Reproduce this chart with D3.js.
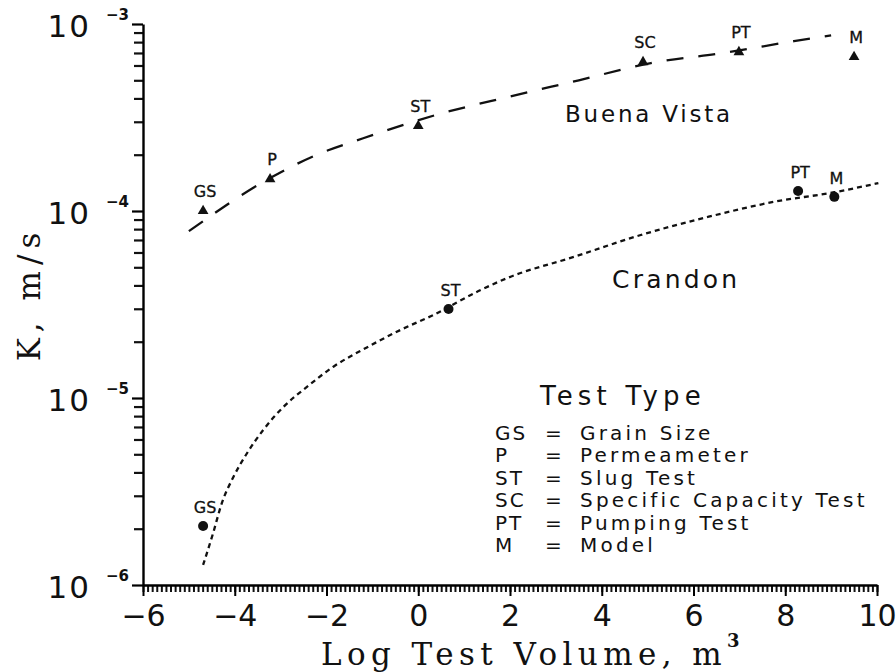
<!DOCTYPE html>
<html>

<head>
    <meta charset="UTF-8">
    <style>
        body {
            margin: 0;
            background-color: #fff;
        }

        .tick-label,
        .mark-label,
        .note {
            font-family: "DejaVu Sans", sans-serif;
            fill: #111;
        }

        .axis-title {
            font-family: "DejaVu Serif", serif;
            fill: #111;
        }
    </style>
    <title>K vs Log Test Volume</title>
</head>

<body>
    <svg id="chart" width="896" height="672"></svg>

    <script src="https://d3js.org/d3.v7.min.js"></script>
    <script>
        // measured points, Buena Vista (triangles)
        const bvX = [-4.69, -3.23, 0.0, 4.9, 6.99, 9.5];
        const bvK = [1.0e-4, 1.48e-4, 2.85e-4, 6.26e-4, 7.08e-4, 6.67e-4];
        const bvLabels = ["GS", "P", "ST", "SC", "PT", "M"];

        // measured points, Crandon (circles)
        const crX = [-4.69, 0.66, 8.28, 9.07];
        const crK = [2.07e-6, 2.99e-5, 1.28e-4, 1.19e-4];
        const crLabels = ["GS", "ST", "PT", "M"];

        // fitted curves
        const bvCurveX = [-5.0, -3.23, -2.27, -1.2, 0.38, 1.95, 3.5, 5.07, 6.66, 8.19, 9.0];
        const bvCurveK = [7.8e-5, 1.5e-4, 1.97e-4, 2.45e-4, 3.26e-4, 4.07e-4, 5.0e-4, 6.18e-4, 7.0e-4, 8.1e-4, 8.7e-4];

        const crCurveX = [-4.69, -4.47, -4.28, -4.03, -3.73, -3.38, -2.94, -2.42, -1.85, -1.11, -0.39, 0.33, 1.36, 1.95, 3.39, 4.85, 6.31, 7.76, 9.07, 10.03];
        const crCurveK = [1.28e-6, 1.9e-6, 2.75e-6, 3.78e-6, 5.08e-6, 6.74e-6, 8.95e-6, 1.15e-5, 1.47e-5, 1.87e-5, 2.31e-5, 2.78e-5, 3.78e-5, 4.39e-5, 5.68e-5, 7.44e-5, 9.29e-5, 1.12e-4, 1.26e-4, 1.41e-4];

        // axes
        const xTickValues = [-6, -4, -2, 0, 2, 4, 6, 8, 10];
        const yDecades = [-6, -5, -4, -3];

        // legend
        const legendCodes = ["GS", "P", "ST", "SC", "PT", "M"];
        const legendNames = ["Grain Size", "Permeameter", "Slug Test", "Specific Capacity Test", "Pumping Test", "Model"];

        const plotLeft = 143, plotRight = 877, plotTop = 24, plotBottom = 585;

        const svg = d3.select("#chart");

        const x = d3.scaleLinear().domain([-6, 10]).range([plotLeft, plotRight]);
        const y = d3.scaleLog().domain([1e-6, 1e-3]).range([plotBottom, plotTop]);

        // minor ticks: x every 0.1, y at 2..9 of each decade
        const xMinor = d3.range(0, 161).map(i => -6 + i * 0.1);
        const yMinor = [];
        yDecades.slice(0, 3).forEach(d => {
            for (let m = 2; m <= 9; m++) yMinor.push(m * Math.pow(10, d));
        });

        svg.append("g")
            .attr("transform", `translate(0, ${plotBottom})`)
            .call(d3.axisBottom(x).tickValues(xMinor).tickSize(7).tickFormat(() => "").tickSizeOuter(0))
            .call(g => g.select(".domain").remove())
            .call(g => g.selectAll("line").attr("stroke", "#111").attr("stroke-width", 2));

        svg.append("g")
            .attr("transform", `translate(${plotLeft}, 0)`)
            .call(d3.axisLeft(y).tickValues(yMinor).tickSize(9).tickFormat(() => "").tickSizeOuter(0))
            .call(g => g.select(".domain").remove())
            .call(g => g.selectAll("line").attr("stroke", "#111").attr("stroke-width", 2.2));

        // major ticks + axis lines
        svg.append("g")
            .attr("transform", `translate(0, ${plotBottom})`)
            .call(d3.axisBottom(x).tickValues(xTickValues).tickSize(11).tickPadding(3).tickSizeOuter(0))
            .call(g => g.select(".domain").attr("stroke-width", 2.4))
            .call(g => g.selectAll("line").attr("stroke-width", 2))
            .call(g => g.selectAll("text")
                .attr("class", "tick-label")
                .attr("font-size", 30)
                .attr("dy", "0.9em"));

        svg.append("g")
            .attr("transform", `translate(${plotLeft}, 0)`)
            .call(d3.axisLeft(y).tickValues(yDecades.map(d => Math.pow(10, d))).tickSize(11).tickFormat(() => "").tickSizeOuter(0))
            .call(g => g.select(".domain").attr("stroke-width", 2.4))
            .call(g => g.selectAll("line").attr("stroke-width", 2.2));

        // 10^n labels
        const yLab = svg.append("g");
        yDecades.forEach(d => {
            const ty = y(Math.pow(10, d));
            yLab.append("text")
                .attr("class", "tick-label")
                .attr("x", 91)
                .attr("y", ty + 13)
                .attr("text-anchor", "end")
                .attr("font-size", 31)
                .attr("letter-spacing", 2)
                .text("10");
            yLab.append("text")
                .attr("class", "tick-label")
                .attr("x", 106)
                .attr("y", ty - 4)
                .attr("font-size", 15)
                .attr("font-weight", "bold")
                .text("\u2212" + Math.abs(d));
        });

        // axis titles
        const xTitle = svg.append("text")
            .attr("class", "axis-title")
            .attr("x", 533)
            .attr("y", 665)
            .attr("text-anchor", "middle")
            .attr("font-size", 31)
            .attr("letter-spacing", 5.4);
        xTitle.append("tspan").text("Log Test Volume, m");
        xTitle.append("tspan")
            .attr("dy", -18)
            .attr("font-size", 18)
            .attr("font-weight", "bold")
            .text("3");

        svg.append("text")
            .attr("class", "axis-title")
            .attr("transform", "translate(40, 294) rotate(-90)")
            .attr("text-anchor", "middle")
            .attr("font-size", 31)
            .attr("letter-spacing", 6)
            .text("K, m/s");

        // curves
        const line = d3.line()
            .x(d => x(d[0]))
            .y(d => y(d[1]))
            .curve(d3.curveMonotoneX);

        svg.append("path")
            .datum(d3.zip(bvCurveX, bvCurveK))
            .attr("d", line)
            .attr("fill", "none")
            .attr("stroke", "#111")
            .attr("stroke-width", 2.3)
            .attr("stroke-dasharray", "17,15");

        svg.append("path")
            .datum(d3.zip(crCurveX, crCurveK))
            .attr("d", line)
            .attr("fill", "none")
            .attr("stroke", "#111")
            .attr("stroke-width", 2.3)
            .attr("stroke-dasharray", "5,4");

        // markers
        const bvData = bvX.map((v, i) => ({ x: v, k: bvK[i], label: bvLabels[i] }));
        const crData = crX.map((v, i) => ({ x: v, k: crK[i], label: crLabels[i] }));

        svg.append("g").selectAll("path")
            .data(bvData)
            .enter().append("path")
            .attr("d", d3.symbol().type(d3.symbolTriangle).size(50))
            .attr("transform", d => `translate(${x(d.x)}, ${y(d.k)})`)
            .attr("fill", "#111");

        svg.append("g").selectAll("circle")
            .data(crData)
            .enter().append("circle")
            .attr("cx", d => x(d.x))
            .attr("cy", d => y(d.k))
            .attr("r", 5)
            .attr("fill", "#111");

        svg.append("g").selectAll("text")
            .data(bvData)
            .enter().append("text")
            .attr("class", "mark-label")
            .attr("x", d => x(d.x) + 2)
            .attr("y", d => y(d.k) - 14)
            .attr("text-anchor", "middle")
            .attr("font-size", 16)
            .attr("stroke", "#111")
            .attr("stroke-width", 0.3)
            .text(d => d.label);

        svg.append("g").selectAll("text")
            .data(crData)
            .enter().append("text")
            .attr("class", "mark-label")
            .attr("x", d => x(d.x) + 2)
            .attr("y", d => y(d.k) - 13)
            .attr("text-anchor", "middle")
            .attr("font-size", 16)
            .attr("stroke", "#111")
            .attr("stroke-width", 0.3)
            .text(d => d.label);

        // site names
        svg.append("text")
            .attr("class", "note")
            .attr("x", 565)
            .attr("y", 122)
            .attr("font-size", 23)
            .attr("letter-spacing", 2.8)
            .text("Buena Vista");

        svg.append("text")
            .attr("class", "note")
            .attr("x", 612)
            .attr("y", 288)
            .attr("font-size", 25)
            .attr("letter-spacing", 3.2)
            .text("Crandon");

        // legend
        svg.append("text")
            .attr("class", "note")
            .attr("x", 540)
            .attr("y", 405)
            .attr("font-size", 26)
            .attr("letter-spacing", 5.2)
            .text("Test Type");

        const leg = svg.append("g");
        legendCodes.forEach((c, i) => {
            const ly = 440 + i * 22.4;
            leg.append("text").attr("class", "note")
                .attr("x", 495).attr("y", ly)
                .attr("font-size", 20).attr("letter-spacing", 2)
                .text(c);
            leg.append("text").attr("class", "note")
                .attr("x", 545).attr("y", ly)
                .attr("font-size", 20)
                .text("=");
            leg.append("text").attr("class", "note")
                .attr("x", 580).attr("y", ly)
                .attr("font-size", 20).attr("letter-spacing", 3.2)
                .text(legendNames[i]);
        });
    </script>
</body>

</html>
